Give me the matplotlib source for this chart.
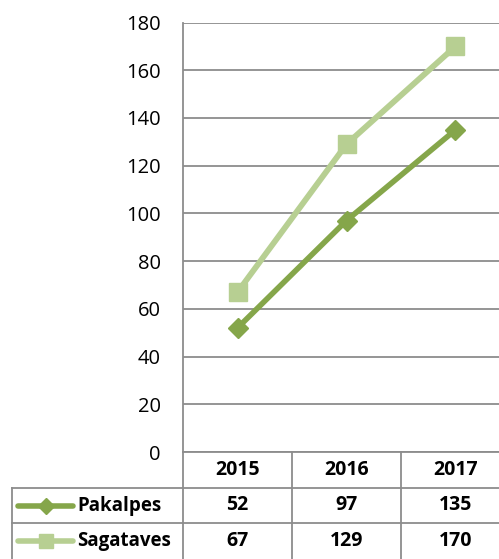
import matplotlib
matplotlib.use("Agg")
import matplotlib.pyplot as plt
from matplotlib.lines import Line2D

plt.rcParams['font.family'] = ['Open Sans', 'DejaVu Sans']

years = ["2015", "2016", "2017"]
series_names = ["Pakalpes", "Sagataves"]
pakalpes = [52, 97, 135]
sagataves = [67, 129, 170]
yticks = [0, 20, 40, 60, 80, 100, 120, 140, 160, 180]

W, H = 499, 559
fig = plt.figure(figsize=(W / 100, H / 100), dpi=100)

# plot area runs past the right edge like the original
x0, x1, ytop, ybot = 183, 510, 22.5, 452
ax = fig.add_axes([x0 / W, 1 - ybot / H, (x1 - x0) / W, (ybot - ytop) / H])

dark = "#85A64A"
light = "#B7CF92"
grid_c = "#8C8C8C"

x = range(len(years))
ax.plot(x, sagataves, color=light, lw=4.2, marker="s", ms=13, zorder=3)
ax.plot(x, pakalpes, color=dark, lw=4, marker="D", ms=10, zorder=4)

ax.set_xlim(-0.5, 2.5)
ax.set_ylim(0, 180)
ax.set_yticks(yticks)
ax.set_xticks([])
ax.yaxis.grid(True, color=grid_c, lw=1.3)
ax.set_axisbelow(True)
for s in ["top", "right", "bottom"]:
    ax.spines[s].set_visible(False)
ax.spines["left"].set_color(grid_c)
ax.spines["left"].set_linewidth(1.3)
ax.tick_params(axis="y", length=0, pad=16, labelsize=14.5, colors="black")


def fx(px):
    return px / W


def fy(py):
    return 1 - py / H


def hline(py, xa, xb):
    fig.add_artist(Line2D([fx(xa), fx(xb)], [fy(py), fy(py)], color=grid_c, lw=1.3))


def vline(px, ya, yb):
    fig.add_artist(Line2D([fx(px), fx(px)], [fy(ya), fy(yb)], color=grid_c, lw=1.3))


# data table borders
hline(452, x0, W)
hline(488, 12, W)
hline(523, 12, W)
vline(12, 488, 559)
vline(x0, 452, 559)
for cx in [0.5, 1.5]:
    px = x0 + (cx + 0.5) / 3 * (x1 - x0)
    vline(px, 452, 559)

# table text
tf = dict(fontsize=14, fontweight="bold", ha="center", va="center")
for i, yr in enumerate(years):
    px = x0 + (i + 0.5) / 3 * (x1 - x0)
    fig.text(fx(px), fy(470), yr, **tf)
    fig.text(fx(px), fy(505.5), str(pakalpes[i]), **tf)
    fig.text(fx(px), fy(541), str(sagataves[i]), **tf)

# legend keys
for name, col, mk, ms, py in [(series_names[0], dark, "D", 8, 505.5),
                              (series_names[1], light, "s", 10, 541)]:
    fig.add_artist(Line2D([fx(18), fx(73)], [fy(py), fy(py)], color=col, lw=4,
                          solid_capstyle="round"))
    fig.add_artist(Line2D([fx(45.5)], [fy(py)], color=col, marker=mk, ms=ms, lw=0))
    fig.text(fx(77), fy(py), name, fontsize=13.5, fontweight="bold", ha="left", va="center")

fig.savefig("out.png", dpi=100)
